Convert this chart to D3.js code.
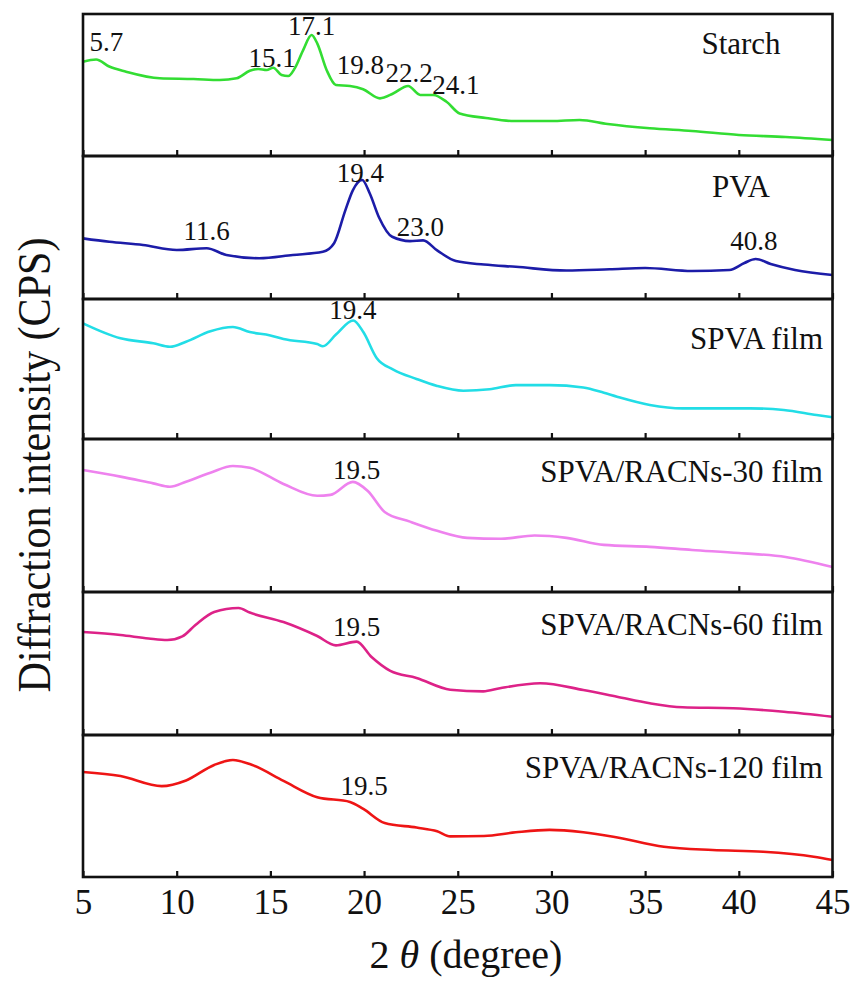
<!DOCTYPE html>
<html>
<head>
<meta charset="utf-8">
<script src="https://cdn.jsdelivr.net/npm/d3@7"></script>
<style>
  body { margin: 0; background: #fff; }
</style>
</head>
<body>
<svg id="chart" width="856" height="988"></svg>
<script>
// 2theta (degree) vs relative intensity (% of panel height)
const starch = [[5,66.4],[5.7,68],[6.4,63],[7.3,59.4],[9.1,54.7],[10.9,54.2],[12.3,53.5],[13.2,54.7],[13.9,60],[14.35,61.3],[14.8,60.6],[15.15,62.2],[15.6,57],[15.95,56.3],[16.3,61.7],[16.75,74.6],[17.2,85.2],[17.5,79.3],[18,60.6],[18.5,50],[19.25,49.3],[19.95,47],[20.85,40.6],[21.55,44],[22.35,49.3],[23,43],[23.7,43],[24.4,38.2],[25.1,30],[26.5,26.8],[28,24.6],[30,24.6],[31.5,25.4],[33,22.5],[35.25,19.5],[37.5,17.6],[40,14.8],[42.5,13.4],[45,11.3]];
const pva = [[5,42.4],[6.4,40],[8.2,37.8],[10,34.3],[11.6,35.5],[12.65,30.8],[14.4,28.5],[16.2,30.8],[17.8,33],[18.4,39],[19,62],[19.4,76],[19.9,83.2],[20.3,74],[20.8,57],[21.5,43.5],[22.45,40.5],[23.15,41],[23.9,34],[24.9,26.5],[26.4,24.1],[28.1,22.5],[30.8,19.9],[33.1,20.8],[35,21.7],[37.5,19.6],[39.5,20.3],[40.3,25.2],[40.9,28],[41.7,24.5],[43,20.3],[45,16.8]];
const spva = [[5,82.6],[7,71.9],[8.75,68.4],[9.64,65.9],[10.5,69.5],[11.8,77],[13,80],[13.9,76.4],[15,74],[15.7,71.4],[17.5,67.9],[17.8,66.2],[18.5,74.6],[19.42,84.6],[19.96,76.4],[20.67,57.9],[21.56,49.6],[22.8,42.9],[23.9,37.9],[25.3,34.5],[26.7,35.5],[28.1,38.5],[29.9,38.5],[31.7,36.8],[32.8,33],[33.5,30.2],[35.25,24.3],[37,21.9],[38.8,21.9],[40.6,21.9],[42.4,20.7],[44.15,17.1],[45,15.5]];
const racn30 = [[5,79.7],[7,75.4],[8.75,71],[9.64,68.8],[10.5,72.1],[11.8,78],[13,82.4],[13.9,81.2],[15.7,70.6],[17.5,62.9],[18.2,63.5],[19.4,72],[20.2,66],[21.1,52.3],[22.45,46],[23.9,40],[25.5,35.4],[27.3,34.8],[29.1,36.9],[30.8,35.4],[32.8,30.8],[35.25,29.5],[37.5,27.5],[40,25.5],[42.5,22.9],[45,16.3]];
const racn60 = [[5,72],[7,69.9],[8.5,67.5],[9.5,66.4],[10.3,69],[11,76.9],[12,86],[13.3,88.8],[13.9,85.6],[15.7,79],[17.5,69.2],[18.5,62.7],[19.6,65.3],[20.4,54.5],[21.4,44.8],[22.8,39.9],[24.6,31.7],[26.36,30.5],[27.25,32.7],[29.4,36.2],[31.7,31.5],[33.5,26.8],[35.25,22.2],[37,19.4],[39.7,18.7],[42.4,16.3],[45,12.8]];
const racn120 = [[5,73.9],[7,71.1],[9.2,64],[10.5,68],[12,78.9],[13,82.4],[14,79],[15.7,67.7],[17.5,56.2],[19.25,52.9],[19.96,47.9],[21.1,38],[22.8,34.8],[23.9,32.2],[24.6,28.6],[26.4,28.9],[28.1,31.5],[29.9,33.2],[31.7,31.5],[33.3,28.4],[36,21.3],[38.6,19],[41.3,17.8],[44,14.3],[45,12]];

const sampleNames = ["Starch", "PVA", "SPVA film", "SPVA/RACNs-30 film", "SPVA/RACNs-60 film", "SPVA/RACNs-120 film"];
const sampleColors = ["#33dd33", "#1c1ca8", "#22dde6", "#ee82ee", "#dd2288", "#ee1515"];
const series = [starch, pva, spva, racn30, racn60, racn120];

// peak labels: [panel, 2theta position of label, height %, text]
const peakLabels = [
  [0, 6.25, 74, "5.7"], [0, 15.1, 63, "15.1"], [0, 17.2, 85, "17.1"], [0, 19.8, 58, "19.8"], [0, 22.4, 52, "22.2"], [0, 24.9, 44, "24.1"],
  [1, 19.8, 82, "19.4"], [1, 11.6, 41, "11.6"], [1, 23.0, 44, "23.0"], [1, 40.8, 34, "40.8"],
  [2, 19.4, 86, "19.4"],
  [3, 19.6, 74, "19.5"],
  [4, 19.6, 69, "19.5"],
  [5, 20.0, 58, "19.5"]
];

const xTicks = [5, 10, 15, 20, 25, 30, 35, 40, 45];

const serif = '"Liberation Serif", "Times New Roman", Times, Tinos, "DejaVu Serif", serif';
const svg = d3.select("#chart");
const left = 83, right = 832.5;
const panelEdges = [14, 156, 299, 439, 592, 735, 877];

const x = d3.scaleLinear().domain([5, 45]).range([left, right]);

series.forEach(function(data, i) {
  const top = panelEdges[i], bottom = panelEdges[i + 1];
  const y = d3.scaleLinear().domain([0, 100]).range([bottom, top]);
  const g = svg.append("g");

  const line = d3.line()
    .x(function(d) { return x(d[0]); })
    .y(function(d) { return y(d[1]); })
    .curve(d3.curveMonotoneX);

  g.append("path")
    .datum(data)
    .attr("fill", "none")
    .attr("stroke", sampleColors[i])
    .attr("stroke-width", 2.6)
    .attr("stroke-linejoin", "round")
    .attr("d", line);

  const last = i == series.length - 1;
  const axis = d3.axisBottom(x)
    .tickValues(xTicks)
    .tickSizeInner(-6)
    .tickSizeOuter(0)
    .tickPadding(12)
    .tickFormat(last ? d3.format("d") : "");
  const ax = g.append("g").attr("transform", "translate(0," + bottom + ")").call(axis);
  ax.select(".domain").remove();
  ax.selectAll(".tick line").attr("stroke", "#111").attr("stroke-width", 2.2);
  ax.selectAll(".tick text")
    .style("font-family", serif)
    .style("font-size", "35px")
    .attr("fill", "#111");

  g.append("rect")
    .attr("x", left).attr("y", top)
    .attr("width", right - left).attr("height", bottom - top)
    .attr("fill", "none").attr("stroke", "#111").attr("stroke-width", 2.6);

  const centred = i < 2;
  const labelBase = [54, 197, 349, 482, 635, 778];
  g.append("text")
    .attr("x", centred ? 741 : 823)
    .attr("y", labelBase[i])
    .attr("text-anchor", centred ? "middle" : "end")
    .attr("fill", "#111")
    .style("font-family", serif)
    .style("font-size", "31px")
    .text(sampleNames[i]);

  peakLabels.filter(function(p) { return p[0] == i; }).forEach(function(p) {
    g.append("text")
      .attr("x", x(p[1]))
      .attr("y", y(p[2]))
      .attr("text-anchor", "middle")
      .attr("fill", "#111")
      .style("font-family", serif)
      .style("font-size", "27px")
      .text(p[3]);
  });
});

const xl = svg.append("text")
  .attr("x", 466).attr("y", 968)
  .attr("text-anchor", "middle")
  .attr("fill", "#111")
  .style("font-family", serif)
  .style("font-size", "40px");
xl.append("tspan").text("2 ");
xl.append("tspan").style("font-style", "italic").text("θ");
xl.append("tspan").text(" (degree)");

svg.append("text")
  .attr("transform", "translate(50,465) rotate(-90)")
  .attr("text-anchor", "middle")
  .attr("textLength", 455)
  .attr("lengthAdjust", "spacingAndGlyphs")
  .attr("fill", "#111")
  .style("font-family", serif)
  .style("font-size", "46px")
  .text("Diffraction intensity (CPS)");
</script>
</body>
</html>
